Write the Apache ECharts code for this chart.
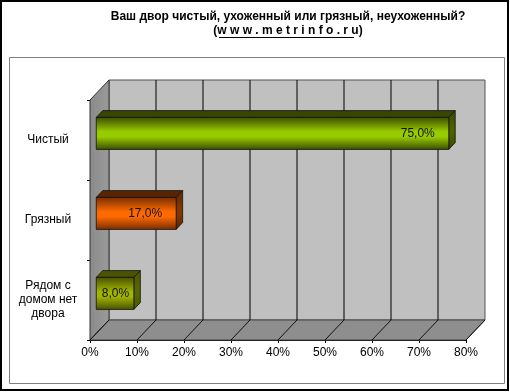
<!DOCTYPE html>
<html>
<head>
<meta charset="utf-8">
<script src="https://cdn.jsdelivr.net/npm/echarts@6/dist/echarts.min.js"></script>
<style>
html,body{margin:0;padding:0;background:#fff;}
#chart{width:510px;height:392px;}
</style>
</head>
<body>
<div id="chart"></div>
<script>
// ---- data ----
const categories = ['Чистый', 'Грязный', 'Рядом с\nдомом нет\nдвора'];
const values = [75, 17, 8];
const xTicks = [0, 10, 20, 30, 40, 50, 60, 70, 80];
const titleLine1 = 'Ваш двор чистый, ухоженный или грязный, неухоженный?';
const titleLine2 = '(w w w . m e t r i n f o . r u)';

// ---- style ----
const FONT = '"Liberation Sans", Arial, sans-serif';
const DX = 19, DY = -20; // 3D depth offset
const barColors = [
  {edge: '#3a4c00', mid: '#99cc00', top: '#384700', side: '#4c6200'},
  {edge: '#752c00', mid: '#ff6a00', top: '#5a2400', side: '#853600'},
  {edge: '#485200', mid: '#a0b400', top: '#4a5400', side: '#5a6600'}
];

function grad(edge, mid) {
  return new echarts.graphic.LinearGradient(0, 0, 0, 1, [
    {offset: 0, color: edge},
    {offset: 0.45, color: mid},
    {offset: 0.6, color: mid},
    {offset: 1, color: edge}
  ]);
}

function fmt(v) { return v.toFixed(1).replace('.', ',') + '%'; }

const chart = echarts.init(document.getElementById('chart'), null, {renderer: 'canvas'});

function renderWalls(params, api) {
  const cs = params.coordSys;
  const x0 = cs.x, x1 = cs.x + cs.width, y0 = cs.y, y1 = cs.y + cs.height;
  const children = [];
  children.push({type: 'rect', shape: {x: x0 + DX, y: y0 + DY, width: cs.width, height: cs.height},
    style: {fill: '#c0c0c0', stroke: '#555', lineWidth: 1}});
  children.push({type: 'polygon', shape: {points: [[x0, y0], [x0 + DX, y0 + DY], [x0 + DX, y1 + DY], [x0, y1]]},
    style: {fill: new echarts.graphic.LinearGradient(0, 0, 1, 0, [{offset: 0, color: '#8a8a8a'}, {offset: 1, color: '#9a9a9a'}]), stroke: '#333', lineWidth: 1}});
  children.push({type: 'polygon', shape: {points: [[x0, y1], [x0 + DX, y1 + DY], [x1 + DX, y1 + DY], [x1, y1]]},
    style: {fill: '#8e8e8e', stroke: '#444', lineWidth: 1}});
  xTicks.forEach(function (t) {
    const x = api.coord([t, 0])[0];
    if (t > xTicks[0] && t < xTicks[xTicks.length - 1]) {
      children.push({type: 'line', shape: {x1: x + DX, y1: y0 + DY, x2: x + DX, y2: y1 + DY},
        style: {stroke: '#000', lineWidth: 1}});
    }
    children.push({type: 'line', shape: {x1: x + DX, y1: y1 + DY, x2: x, y2: y1},
      style: {stroke: '#111', lineWidth: 1}});
  });
  return {type: 'group', children: children};
}

function renderBar(params, api) {
  const i = api.value(1), v = api.value(0);
  const p0 = api.coord([0, i]), p1 = api.coord([v, i]);
  const band = api.size([0, 1])[1];
  const h = band * 0.4;
  const fx = DX * 0.33, fy = DY * 0.33;
  const dX = DX * 0.34, dY = DY * 0.34;
  const xa = p0[0] + fx, xb = p1[0] + fx;
  const yt = p0[1] + fy - h / 2, yb = yt + h;
  const c = barColors[i % barColors.length];
  const textRight = Math.max((xa + xb) / 2 + 14, xb - 14);
  return {type: 'group', children: [
    {type: 'polygon', shape: {points: [[xa, yt], [xa + dX, yt + dY], [xb + dX, yt + dY], [xb, yt]]},
      style: {fill: c.top, stroke: '#111', lineWidth: 0.8}},
    {type: 'polygon', shape: {points: [[xb, yt], [xb + dX, yt + dY], [xb + dX, yb + dY], [xb, yb]]},
      style: {fill: grad(c.top, c.side), stroke: '#111', lineWidth: 0.8}},
    {type: 'rect', shape: {x: xa, y: yt, width: xb - xa, height: h},
      style: {fill: grad(c.edge, c.mid), stroke: '#111', lineWidth: 0.8}},
    {type: 'text', style: {text: fmt(v), x: textRight, y: (yt + yb) / 2, align: 'right', verticalAlign: 'middle',
      fill: '#111', font: '12px ' + FONT}}
  ]};
}

const option = {
  animation: false,
  backgroundColor: '#fff',
  textStyle: {fontFamily: FONT},
  graphic: [
    {type: 'rect', shape: {x: 1, y: 1, width: 507, height: 389}, style: {fill: 'none', stroke: '#000', lineWidth: 2}, z: 100},
    {type: 'rect', shape: {x: 9.5, y: 57.5, width: 495, height: 326}, style: {fill: 'none', stroke: '#808080', lineWidth: 1}, z: 100},
    {type: 'text', x: 288, y: 17, style: {text: titleLine1, align: 'center', verticalAlign: 'middle', font: 'bold 12px ' + FONT, fill: '#000'}},
    {type: 'text', x: 288, y: 31, style: {text: titleLine2, align: 'center', verticalAlign: 'middle', font: 'bold 12px ' + FONT, fill: '#000'}},
    {type: 'line', shape: {x1: 219, y1: 37.5, x2: 354, y2: 37.5}, style: {stroke: '#000', lineWidth: 1}}
  ],
  grid: {left: 90, right: 44, top: 100, bottom: 52, containLabel: false},
  xAxis: {
    type: 'value', min: 0, max: 80, interval: 10,
    axisLine: {show: true, lineStyle: {color: '#000'}},
    axisTick: {show: true, length: 3, lineStyle: {color: '#000'}},
    splitLine: {show: false},
    axisLabel: {formatter: function (v) { return v + '%'; }, color: '#000', fontSize: 12, margin: 7, fontFamily: FONT}
  },
  yAxis: {
    type: 'category', data: categories, inverse: true,
    axisLine: {show: true, lineStyle: {color: '#000'}},
    axisTick: {show: true, length: 3, lineStyle: {color: '#000'}},
    axisLabel: {color: '#000', fontSize: 12, margin: 42, align: 'center', lineHeight: 14, fontFamily: FONT},
    splitLine: {show: false}
  },
  series: [
    {type: 'custom', name: 'walls', renderItem: renderWalls, data: [[0, 0]], clip: false, z: 1, silent: true},
    {type: 'custom', name: 'bars', renderItem: renderBar, data: values.map(function (v, i) { return [v, i]; }), clip: false, z: 2}
  ]
};
chart.setOption(option);
</script>
</body>
</html>
